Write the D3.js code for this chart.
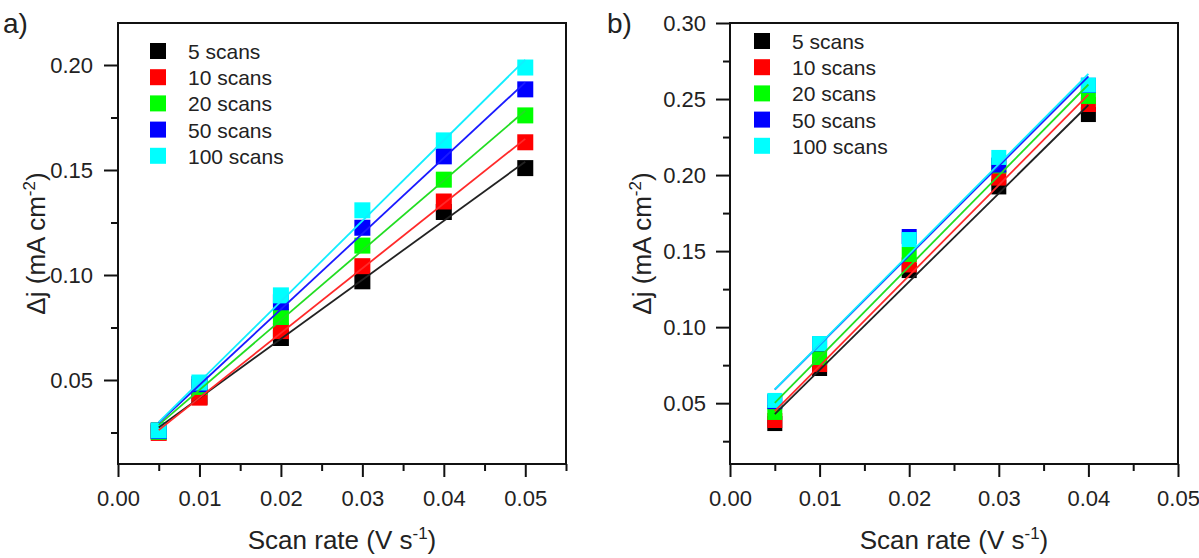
<!DOCTYPE html>
<html><head><meta charset="utf-8">
<script src="https://cdn.jsdelivr.net/npm/d3@7"></script>
<style>
body{margin:0;background:#fff}
svg{display:block}
text{font-family:"Liberation Sans",Arial,Helvetica,sans-serif;fill:#222}
</style>
</head><body>
<svg id="c" width="1199" height="558"></svg>
<script>
// ---- data ----
const seriesNames = ["5 scans","10 scans","20 scans","50 scans","100 scans"];
const seriesColors = ["#000000","#ff0000","#00ff00","#0000ff","#00ffff"];
const lineColors = ["#222222","#ff2a2a","#22dd22","#1a1aff","#11eeff"];

const scanRatesA = [0.005,0.01,0.02,0.03,0.04,0.05];
const a5   = [0.0260,0.0420,0.0700,0.0970,0.1300,0.1509];
const a10  = [0.0248,0.0416,0.0733,0.1042,0.1350,0.1632];
const a20  = [0.0253,0.0467,0.0800,0.1140,0.1454,0.1760];
const a50  = [0.0257,0.0480,0.0870,0.1225,0.1565,0.1884];
const a100 = [0.0260,0.0488,0.0903,0.1308,0.1641,0.1988];

const scanRatesB = [0.005,0.01,0.02,0.03,0.04];
const b5   = [0.0366,0.0728,0.1372,0.1922,0.2398];
const b10  = [0.0386,0.0754,0.1409,0.1980,0.2464];
const b20  = [0.0439,0.0800,0.1478,0.2060,0.2517];
const b50  = [0.0510,0.0890,0.1596,0.2066,0.2590];
const b100 = [0.0518,0.0892,0.1576,0.2116,0.2592];

const xMajorA = [0,0.01,0.02,0.03,0.04,0.05];
const xMinorA = [0.005,0.015,0.025,0.035,0.045,0.055];
const yMajorA = [0.05,0.10,0.15,0.20];
const yMinorA = [0.025,0.075,0.125,0.175];

const xMajorB = [0,0.01,0.02,0.03,0.04,0.05];
const xMinorB = [0.005,0.015,0.025,0.035,0.045];
const yMajorB = [0.05,0.10,0.15,0.20,0.25,0.30];
const yMinorB = [0.025,0.075,0.125,0.175,0.225,0.275];

// ---- drawing ----
const svg = d3.select("#c");
const fmt = d3.format(".2f");

function fit(xs, ys){
  const mx = d3.mean(xs), my = d3.mean(ys);
  let sxy=0, sxx=0;
  xs.forEach((v,i)=>{sxy+=(v-mx)*(ys[i]-my); sxx+=(v-mx)*(v-mx);});
  const s = sxy/sxx; return {s, b: my - s*mx};
}

function styleAxis(g){
  g.select(".domain").remove();
  g.selectAll(".tick line").attr("stroke","#111").attr("stroke-width",2);
  g.selectAll(".tick text").attr("fill","#222");
  g.attr("font-size",22).attr("font-family",'"Liberation Sans",Arial,sans-serif');
}

function panel(c){
  const x = d3.scaleLinear().domain(c.xDomain).range([c.left,c.right]);
  const y = d3.scaleLinear().domain(c.yDomain).range([c.bottom,c.top]);
  const g = svg.append("g");

  g.append("g").attr("transform",`translate(0,${c.bottom})`)
    .call(d3.axisBottom(x).tickValues(c.xMinor).tickSize(7).tickFormat("")).call(styleAxis);
  g.append("g").attr("transform",`translate(0,${c.bottom})`)
    .call(d3.axisBottom(x).tickValues(c.xMajor).tickSize(13).tickPadding(13).tickFormat(fmt)).call(styleAxis);
  g.append("g").attr("transform",`translate(${c.left},0)`)
    .call(d3.axisLeft(y).tickValues(c.yMinor).tickSize(7).tickFormat("")).call(styleAxis);
  g.append("g").attr("transform",`translate(${c.left},0)`)
    .call(d3.axisLeft(y).tickValues(c.yMajor).tickSize(14).tickPadding(c.yPad).tickFormat(fmt)).call(styleAxis);

  // markers
  c.series.forEach((ys,i)=>{
    g.append("g").selectAll("rect").data(ys).join("rect")
      .attr("x",(d,j)=>x(c.xs[j])-c.ms/2).attr("y",d=>y(d)-c.ms/2)
      .attr("width",c.ms).attr("height",c.ms).attr("fill",seriesColors[i]);
  });
  // fitted lines
  c.series.forEach((ys,i)=>{
    const f = fit(c.xs, ys);
    const x0 = c.xs[0], x1 = c.xs[c.xs.length-1];
    g.append("line").attr("x1",x(x0)).attr("y1",y(f.s*x0+f.b))
      .attr("x2",x(x1)).attr("y2",y(f.s*x1+f.b))
      .attr("stroke",lineColors[i]).attr("stroke-width",1.8);
  });

  // frame
  g.append("rect").attr("x",c.left).attr("y",c.top)
    .attr("width",c.right-c.left).attr("height",c.bottom-c.top)
    .attr("fill","none").attr("stroke","#111").attr("stroke-width",2);

  // legend
  seriesNames.forEach((n,i)=>{
    const cy = c.legY + i*26.2;
    g.append("rect").attr("x",c.legX-8).attr("y",cy-8).attr("width",16).attr("height",16)
      .attr("fill",seriesColors[i]);
    g.append("text").attr("x",c.legTX).attr("y",cy+8).attr("font-size",21).text(n);
  });

  // axis titles
  const xt = g.append("text").attr("x",(c.left+c.right)/2).attr("y",549)
    .attr("text-anchor","middle").attr("font-size",26);
  xt.append("tspan").text("Scan rate (V s");
  xt.append("tspan").attr("font-size",17).attr("dy",-10).text("-1");
  xt.append("tspan").attr("font-size",26).attr("dy",10).text(")");

  const yt = g.append("text")
    .attr("transform",`translate(${c.titleX},${(c.top+c.bottom)/2}) rotate(-90)`)
    .attr("text-anchor","middle").attr("font-size",26);
  yt.append("tspan").text("\u0394j (mA cm");
  yt.append("tspan").attr("font-size",17).attr("dy",-10).text("-2");
  yt.append("tspan").attr("font-size",26).attr("dy",10).text(")");

  g.append("text").attr("x",c.labX).attr("y",33).attr("font-size",28).text(c.label);
}

panel({left:118,right:566,top:23,bottom:464,xDomain:[0,0.055],yDomain:[0.01,0.22],
  xMajor:xMajorA,xMinor:xMinorA,yMajor:yMajorA,yMinor:yMinorA,yPad:11,
  xs:scanRatesA,series:[a5,a10,a20,a50,a100],ms:16,
  legX:158,legY:51,legTX:188,titleX:45,label:"a)",labX:3});

panel({left:730,right:1178,top:23,bottom:464,xDomain:[0,0.05],yDomain:[0.01,0.30],
  xMajor:xMajorB,xMinor:xMinorB,yMajor:yMajorB,yMinor:yMinorB,yPad:10,
  xs:scanRatesB,series:[b5,b10,b20,b50,b100],ms:15,
  legX:762,legY:41,legTX:792,titleX:651,label:"b)",labX:607});
</script>
</body></html>
